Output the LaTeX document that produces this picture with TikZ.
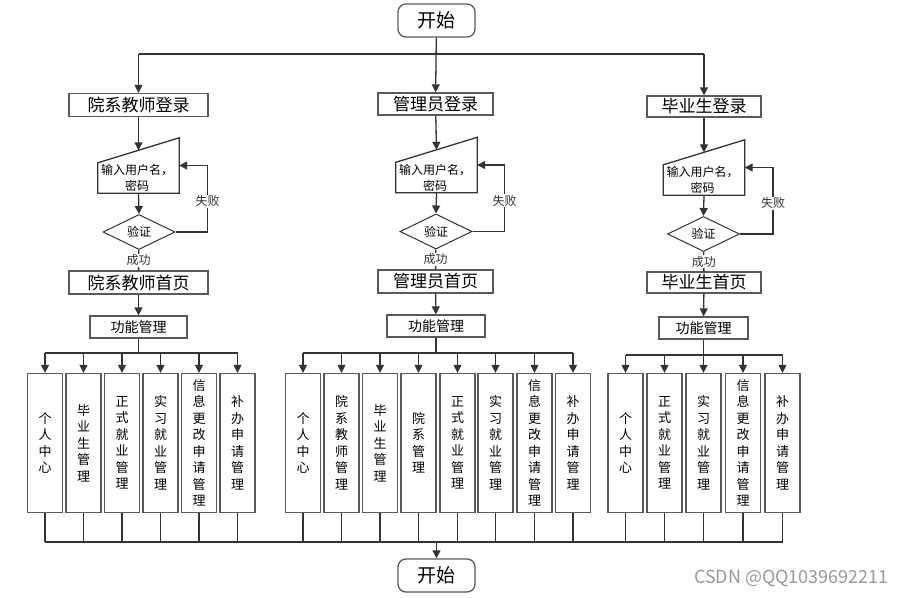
\documentclass[tikz,border=0pt]{standalone}
\usepackage{fontspec}
\newfontfamily\cjk{Noto Sans CJK SC}
\usepackage{tikz}
\usetikzlibrary{shapes.geometric,arrows.meta}
\tikzset{%
  conn/.style={line width=1.3pt, black!80},
  arr/.style={conn, -{Triangle[length=8pt,width=8pt]}},
  box/.style={rectangle, draw=black!65, line width=1.3pt, inner sep=0pt, font=\cjk\fontsize{17}{20}\selectfont},
  termbox/.style={box, rounded corners=8pt, minimum width=77pt, minimum height=33pt, font=\cjk\fontsize{19}{22}\selectfont},
  funbox/.style={box, minimum height=22pt, font=\cjk\fontsize{14}{16}\selectfont},
  itembox/.style={box, minimum width=35pt, minimum height=139pt, align=center, font=\cjk\fontsize{13}{16.5}\selectfont},
  verify/.style={diamond, draw=black!80, line width=1pt, inner sep=0pt, minimum width=72pt, minimum height=32pt, font=\cjk\fontsize{12}{14}\selectfont},
  inbox/.style={rectangle, inner sep=0pt, minimum width=81pt, minimum height=55pt},
  intext/.style={align=center, inner sep=0pt, font=\cjk\fontsize{12}{16}\selectfont},
  lab/.style={fill=white, inner sep=1pt, font=\cjk\fontsize{12}{14}\selectfont}
}
% manual input shape drawn on a plain node
\newcommand{\manin}[1]{\draw[black!80, line width=1.3pt] (#1.south west) -- (#1.south east) -- (#1.north east) -- ([yshift=-25pt]#1.north west) -- cycle;}

\begin{document}
\begin{tikzpicture}[x=1pt,y=-1pt]
    % \draw[help lines, gray] (0,0) grid[step=50] (904,597);
    \useasboundingbox (0,0) rectangle (904,597);
    \node[termbox] (start) at (436.5,20.5) {开始};

    \node[box, minimum width=139pt, minimum height=23pt] (tlogin) at (138.5,105) {院系教师登录};
    \node[inbox] (tin) at (138.5,165.5) {};
    \manin{tin}
    \node[intext] (tintx) at (137,178) {输入用户名，\\密码};
    \node[verify] (tchk) at (139,232) {验证};
    \node[box, minimum width=139pt, minimum height=23pt] (thome) at (138.5,282.5) {院系教师首页};
    \node[funbox, minimum width=97pt] (tfun) at (138.5,327) {功能管理};

    \node[box, minimum width=115pt, minimum height=22pt] (alogin) at (435.5,104) {管理员登录};
    \node[inbox] (ain) at (436.5,165) {};
    \manin{ain}
    \node[intext] (aintx) at (435,177.5) {输入用户名，\\密码};
    \node[verify] (achk) at (436,231.5) {验证};
    \node[box, minimum width=115pt, minimum height=23pt] (ahome) at (435.5,281.5) {管理员首页};
    \node[funbox, minimum width=98pt] (afun) at (436,326) {功能管理};

    \node[box, minimum width=114pt, minimum height=21pt] (slogin) at (704,106.5) {毕业生登录};
    \node[inbox] (sin) at (704,167.5) {};
    \manin{sin}
    \node[intext] (sintx) at (702.5,180) {输入用户名，\\密码};
    \node[verify] (schk) at (703.5,234) {验证};
    \node[box, minimum width=114pt, minimum height=21pt] (shome) at (704,282.5) {毕业生首页};
    \node[funbox, minimum width=89pt] (sfun) at (703.5,328) {功能管理};

    \node[itembox] (t1) at (45,443) {个\\人\\中\\心};
    \node[itembox] (t2) at (83.5,443) {毕\\业\\生\\管\\理};
    \node[itembox] (t3) at (122,443) {正\\式\\就\\业\\管\\理};
    \node[itembox] (t4) at (160.5,443) {实\\习\\就\\业\\管\\理};
    \node[itembox] (t5) at (199,443) {信\\息\\更\\改\\申\\请\\管\\理};
    \node[itembox] (t6) at (237.5,443) {补\\办\\申\\请\\管\\理};

    \node[itembox] (a1) at (303,443) {个\\人\\中\\心};
    \node[itembox] (a2) at (341.5,443) {院\\系\\教\\师\\管\\理};
    \node[itembox] (a3) at (380,443) {毕\\业\\生\\管\\理};
    \node[itembox] (a4) at (418.5,443) {院\\系\\管\\理};
    \node[itembox] (a5) at (457.5,443) {正\\式\\就\\业\\管\\理};
    \node[itembox] (a6) at (495.5,443) {实\\习\\就\\业\\管\\理};
    \node[itembox] (a7) at (534.5,443) {信\\息\\更\\改\\申\\请\\管\\理};
    \node[itembox] (a8) at (573,443) {补\\办\\申\\请\\管\\理};

    \node[itembox] (s1) at (625.5,443) {个\\人\\中\\心};
    \node[itembox] (s2) at (664.5,443) {正\\式\\就\\业\\管\\理};
    \node[itembox] (s3) at (703.5,443) {实\\习\\就\\业\\管\\理};
    \node[itembox] (s4) at (743,443) {信\\息\\更\\改\\申\\请\\管\\理};
    \node[itembox] (s5) at (782.5,443) {补\\办\\申\\请\\管\\理};

    \node[termbox] (end) at (436.5,575.5) {开始};
    \node[anchor=east, text=black!40, inner sep=0pt, font=\cjk\fontsize{18}{20}\selectfont] (mark) at (889,578) {CSDN @QQ1039692211};

    % top split
    \coordinate (topL) at (138.5,54);
    \coordinate (topR) at (704,54);
    \draw[conn] (topL) -- (topR);
    \draw[arr] (start) -- (alogin);
    \draw[arr] (topL) -- (tlogin);
    \draw[arr] (topR) -- (slogin);

    % login loops
    \draw[arr] (tlogin) -- ([yshift=-12.5pt]tin.north);
    \draw[arr] (tin.south) -- (tchk.north);
    \draw[arr] (tchk.east) -- ++(32,0) |- node[pos=0.23, lab] (tfail) {失败} (tin.east);
    \draw[conn] (tchk) -- node[lab] (tok) {成功} (thome);
    \draw[arr] (thome) -- (tfun);

    \draw[arr] (alogin) -- ([yshift=-12.5pt]ain.north);
    \draw[arr] (ain.south) -- (achk.north);
    \draw[arr] (achk.east) -- ++(32,0) |- node[pos=0.23, lab] (afail) {失败} (ain.east);
    \draw[conn] (achk) -- node[lab] (aok) {成功} (ahome);
    \draw[arr] (ahome) -- (afun);

    \draw[arr] (slogin) -- ([yshift=-12.5pt]sin.north);
    \draw[arr] (sin.south) -- (schk.north);
    \draw[arr] (schk.east) -- ++(33,0) |- node[pos=0.23, lab] (sfail) {失败} (sin.east);
    \draw[conn] (schk) -- node[lab] (sok) {成功} (shome);
    \draw[arr] (shome) -- (sfun);

    % fans to the function boxes
    \coordinate (tfan) at (138.5,353);
    \coordinate (afan) at (436,353);
    \coordinate (sfan) at (703.5,355);
    \draw[conn] (tfun) -- (tfan);
    \draw[conn] (afun) -- (afan);
    \draw[conn] (sfun) -- (sfan);
    \draw[conn] (t1.north |- tfan) -- (t6.north |- tfan);
    \draw[conn] (a1.north |- afan) -- (a8.north |- afan);
    \draw[conn] (s1.north |- sfan) -- (s5.north |- sfan);
    \foreach \n in {t1,t2,t3,t4,t5,t6}
        \draw[arr] (\n.north |- tfan) -- (\n);
    \foreach \n in {a1,a2,a3,a4,a5,a6,a7,a8}
        \draw[arr] (\n.north |- afan) -- (\n);
    \foreach \n in {s1,s2,s3,s4,s5}
        \draw[arr] (\n.north |- sfan) -- (\n);

    % join to the end
    \coordinate (bus) at (436.5,542);
    \draw[conn] (t1.south |- bus) -- (s5.south |- bus);
    \foreach \n in {t1,t2,t3,t4,t5,t6,a1,a2,a3,a4,a5,a6,a7,a8,s1,s2,s3,s4,s5}
        \draw[conn] (\n) -- (\n.south |- bus);
    \draw[arr] (bus) -- (end);
\end{tikzpicture}
\end{document}
